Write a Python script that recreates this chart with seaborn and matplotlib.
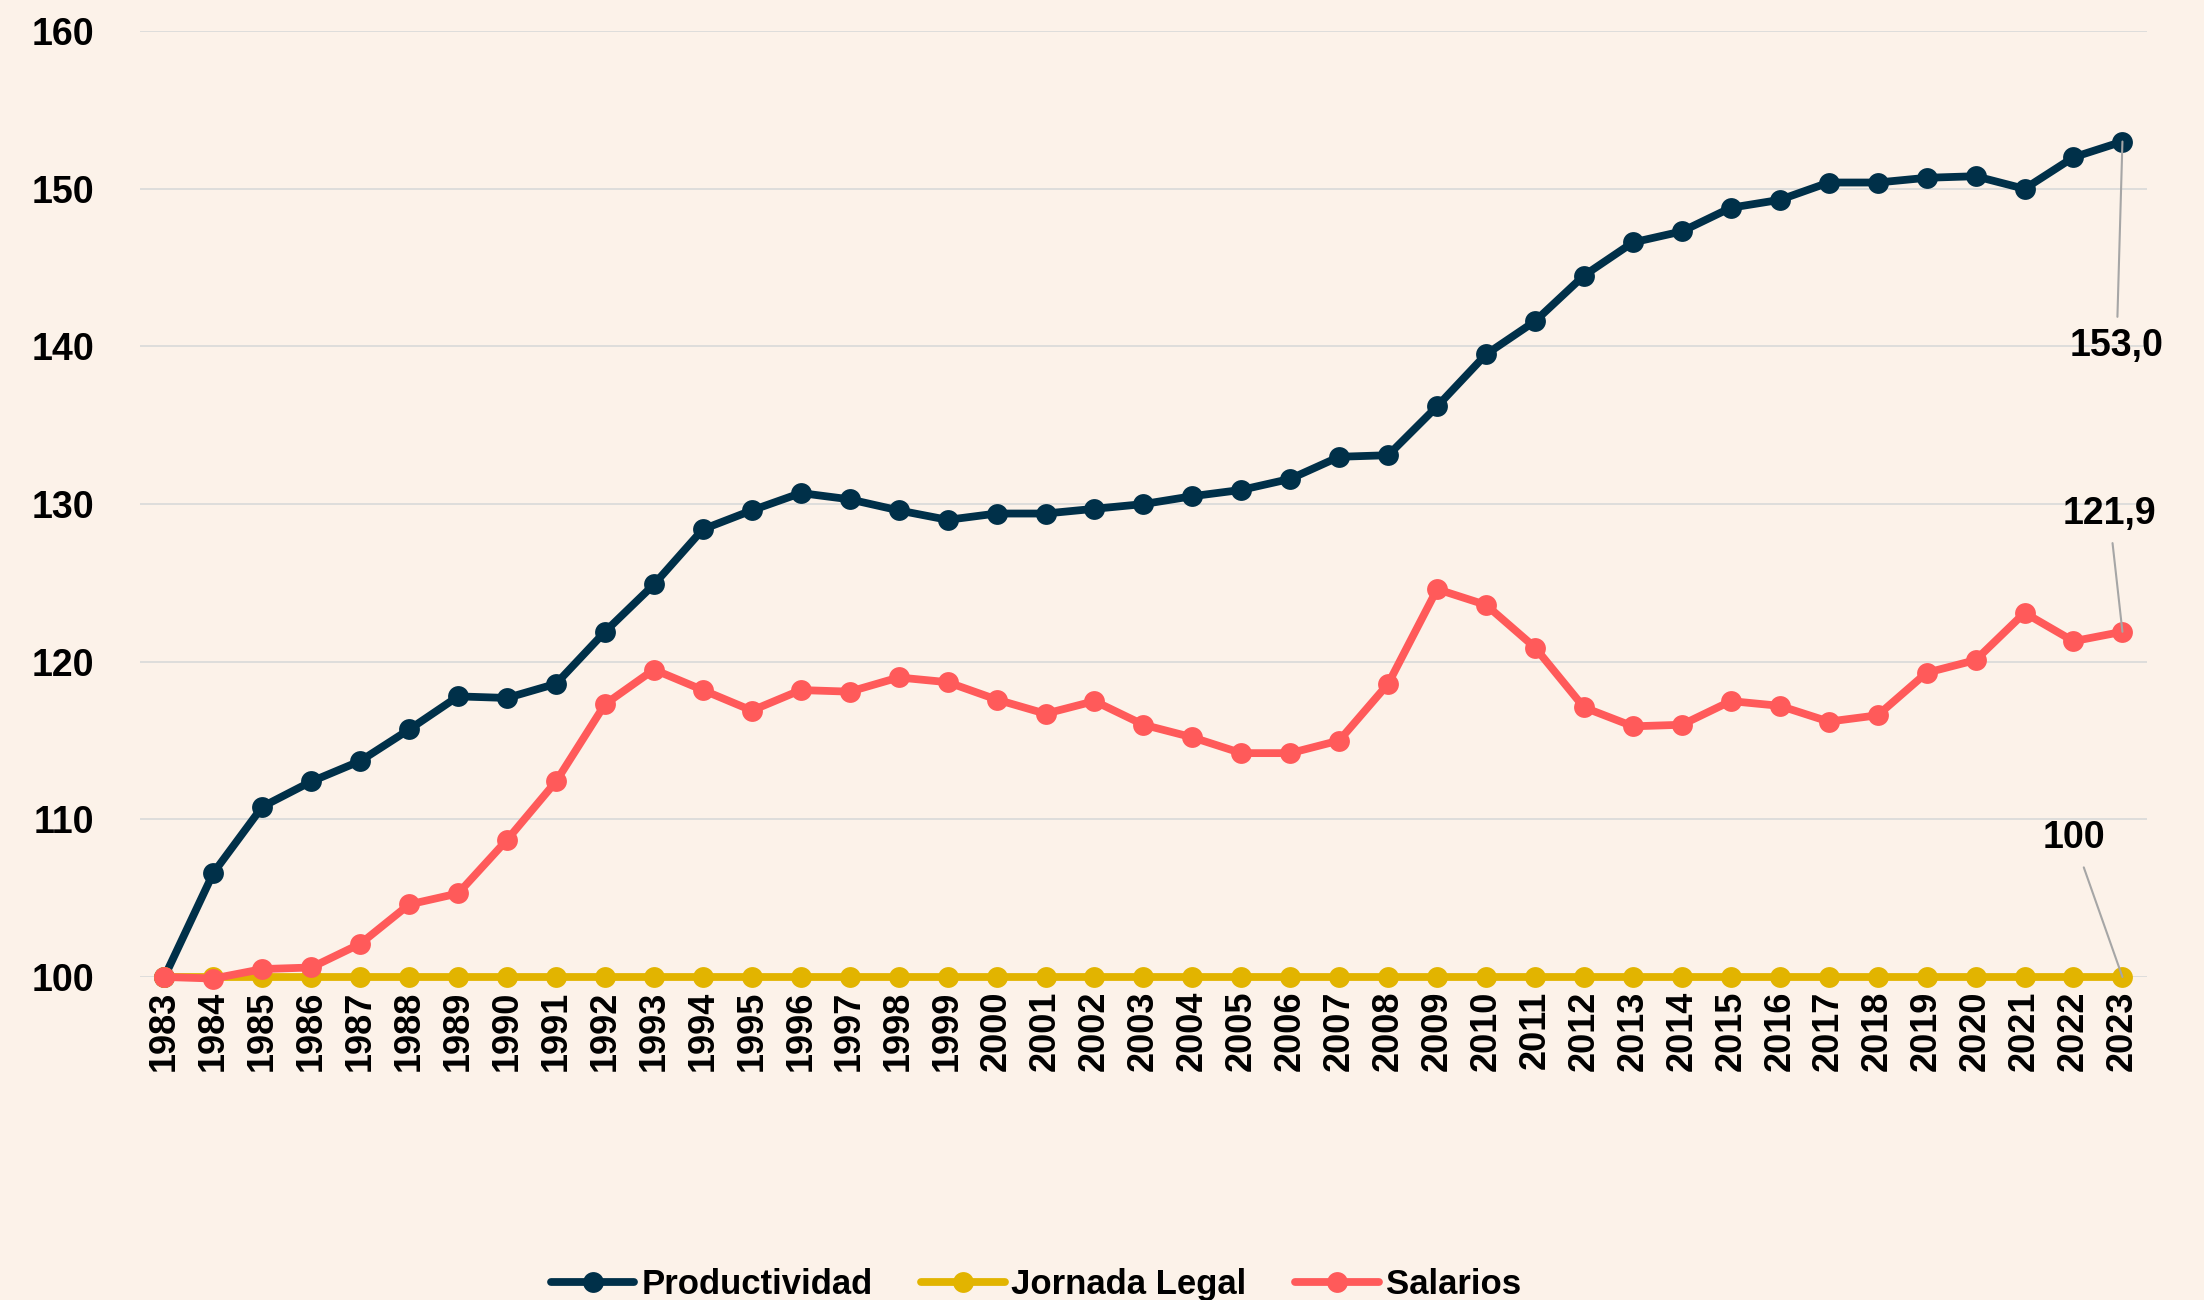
import matplotlib
matplotlib.use("Agg")
import matplotlib.pyplot as plt
import seaborn as sns
import pandas as pd
from matplotlib.lines import Line2D

years = list(range(1983, 2024))

productividad = [
    100.0, 106.6, 110.8, 112.4, 113.7, 115.7, 117.8, 117.7, 118.6, 121.9,
    124.9, 128.4, 129.6, 130.7, 130.3, 129.6, 129.0, 129.4, 129.4, 129.7,
    130.0, 130.5, 130.9, 131.6, 133.0, 133.1, 136.2, 139.5, 141.6, 144.5,
    146.6, 147.3, 148.8, 149.3, 150.4, 150.4, 150.7, 150.8, 150.0, 152.0,
    153.0,
]

jornada_legal = [
    100, 100, 100, 100, 100, 100, 100, 100, 100, 100,
    100, 100, 100, 100, 100, 100, 100, 100, 100, 100,
    100, 100, 100, 100, 100, 100, 100, 100, 100, 100,
    100, 100, 100, 100, 100, 100, 100, 100, 100, 100,
    100,
]

salarios = [
    100.0, 99.9, 100.5, 100.6, 102.1, 104.6, 105.3, 108.7, 112.4, 117.3,
    119.5, 118.2, 116.9, 118.2, 118.1, 119.0, 118.7, 117.6, 116.7, 117.5,
    116.0, 115.2, 114.2, 114.2, 115.0, 118.6, 124.6, 123.6, 120.9, 117.1,
    115.9, 116.0, 117.5, 117.2, 116.2, 116.6, 119.3, 120.1, 123.1, 121.3,
    121.9,
]

series_names = ["Productividad", "Jornada Legal", "Salarios"]
colors = {"Productividad": "#003049", "Jornada Legal": "#E2B400", "Salarios": "#FF5A5A"}

# last-point labels: (text, series)
end_labels = [("153,0", "Productividad"), ("121,9", "Salarios"), ("100", "Jornada Legal")]

df = pd.concat([
    pd.DataFrame({"year": years, "value": productividad, "serie": "Productividad"}),
    pd.DataFrame({"year": years, "value": jornada_legal, "serie": "Jornada Legal"}),
    pd.DataFrame({"year": years, "value": salarios, "serie": "Salarios"}),
])

sns.set_theme(style="white")
plt.rcParams["font.family"] = ["Liberation Sans", "DejaVu Sans"]
plt.rcParams["font.weight"] = "bold"
plt.rcParams["text.color"] = "black"
plt.rcParams["xtick.color"] = "black"
plt.rcParams["ytick.color"] = "black"

bg = "#FCF2E9"
lw = 5.6
ms = 15

fig = plt.figure(figsize=(22.04, 13), dpi=100, facecolor=bg)
ax = fig.add_axes([0.0635, 0.2485, 0.9106, 0.7275])
ax.set_facecolor(bg)

sns.lineplot(
    data=df, x="year", y="value", hue="serie",
    hue_order=series_names, palette=colors,
    marker="o", markersize=ms, markeredgewidth=0,
    linewidth=lw, legend=False, ax=ax, clip_on=False, zorder=3,
)

ax.set_xlim(years[0] - 0.5, years[-1] + 0.5)
ax.set_ylim(100, 160)
ax.set_yticks(range(100, 161, 10))
ax.set_xticks(years)
ax.set_xticklabels([str(y) for y in years], rotation=90, fontsize=26, fontweight="bold")
ax.tick_params(axis="x", length=0, pad=10, labelcolor="black")
ax.tick_params(axis="y", length=0, pad=33, labelsize=27, labelcolor="black")
for lab in ax.get_yticklabels():
    lab.set_fontweight("bold")

ax.grid(axis="y", color="#D9D9D9", linewidth=1.2, zorder=0)
ax.grid(axis="x", visible=False)
for s in ax.spines.values():
    s.set_visible(False)
ax.set_xlabel("")
ax.set_ylabel("")

# labels for the last values
last = {"Productividad": productividad[-1], "Jornada Legal": jornada_legal[-1], "Salarios": salarios[-1]}
label_pos = {"Productividad": (years[-1] - 0.12, 140.0),
             "Salarios": (years[-1] - 0.27, 129.4),
             "Jornada Legal": (years[-1] - 1.0, 108.8)}
for text, name in end_labels:
    ax.annotate(
        text, xy=(years[-1], last[name]), xytext=label_pos[name],
        ha="center", va="center", fontsize=27, fontweight="bold", color="black",
        arrowprops=dict(arrowstyle="-", color="#A6A6A6", linewidth=1.5,
                        shrinkA=6, shrinkB=0),
        annotation_clip=False, zorder=5,
    )

handles = [
    Line2D([0], [0], color=colors[n], linewidth=lw, marker="o",
           markersize=ms, markeredgewidth=0)
    for n in series_names
]
leg = fig.legend(
    handles, series_names, loc="center", bbox_to_anchor=(0.47, 0.012),
    ncol=3, frameon=False, handlelength=2.4,
    handletextpad=0.2, columnspacing=1.4, borderpad=0,
    prop={"weight": "bold", "size": 25},
)
for t in leg.get_texts():
    t.set_color("black")

fig.savefig("out.png", dpi=100, facecolor=bg)
